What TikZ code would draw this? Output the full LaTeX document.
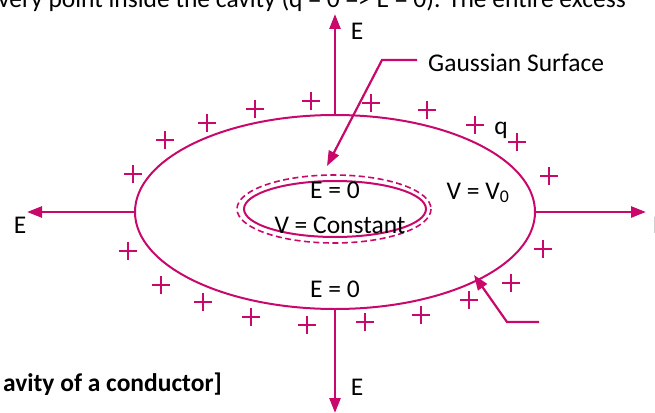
\documentclass[tikz,border=0pt]{standalone}
\usepackage{fontspec}
\setmainfont{Carlito}
\usetikzlibrary{arrows.meta}
\definecolor{chargepink}{HTML}{C8096B}
\tikzset{
  field/.style = {draw = chargepink, line width = 2.6pt, -{Triangle[length = 15pt, width = 11pt]}},
  leader/.style = {draw = chargepink, line width = 2.2pt},
  pointer/.style = {leader, -{Triangle[length = 15pt, width = 11pt]}},
  surf/.style = {draw = chargepink, line width = 2pt},
  chargemark/.style = {draw = chargepink, line width = 2.8pt},
  lbl/.style = {text = black, font = \fontsize{25.5}{30}\selectfont, inner sep = 0pt},
}
\begin{document}
\begin{tikzpicture}[x = 1pt, y = -1pt]
        \useasboundingbox (0, 0) rectangle (655, 412);
        \clip (0, 0) rectangle (655, 412);
        % cut-off text of the page round the figure
        \node[lbl, anchor = base west] (pagetext) at (-2, 8) {very point inside the cavity (q = 0 => E = 0). The entire excess};
        \node[lbl, anchor = base east, font = \fontsize{25.5}{30}\selectfont\bfseries] (caption) at (222, 391) {avity of a conductor]};
        % conductor, cavity and gaussian surface
        \coordinate (centre) at (335, 212);
        \draw[surf] (centre) ellipse [x radius = 200, y radius = 97];
        \draw[surf] (335, 209) ellipse [x radius = 91, y radius = 28];
        \draw[surf, line width = 1.6pt, dash pattern = on 6pt off 3.5pt] (334, 209) ellipse [x radius = 97, y radius = 34];
        \coordinate (outerN) at (335, 115);
        \coordinate (outerS) at (335, 309);
        \coordinate (outerW) at (135, 212);
        \coordinate (outerE) at (535, 212);
        \coordinate (tipN) at (335, 14);
        \coordinate (tipS) at (335, 413);
        \coordinate (tipW) at (27, 212);
        \coordinate (tipE) at (646, 212);
        \draw[field] (outerN) -- (tipN);
        \draw[field] (outerS) -- (tipS);
        \draw[field] (outerW) -- (tipW);
        \draw[field] (outerE) -- (tipE);
        % charges on the outer surface
        \foreach \px/\py in {133/174, 165/140, 207/123, 255/109, 311/101, 371/103, 427/110, 475/125, 517/142, 549/176,
                             128/251, 161/285, 203/302, 251/317, 307/325, 365/322, 421/315, 469/300, 511/283, 543/249}{
            \draw[chargemark] (\px, \py) ++(-9, 0) -- ++(18, 0) (\px, \py) ++(0, -9) -- ++(0, 18);
        }
        % labels
        \node[lbl, anchor = base] (ecav) at (335, 198) {E = 0};
        \node[lbl, anchor = base] (vcav) at (340, 233) {V = Constant};
        \node[lbl, anchor = base] (vcond) at (478, 199) {V = V\textsubscript{0}};
        \node[lbl, anchor = base] (econd) at (335, 297) {E = 0};
        \node[lbl, anchor = base] (qlbl) at (501, 134) {q};
        \node[lbl, anchor = base west] (gauss) at (428, 71) {Gaussian Surface};
        \node[lbl, anchor = base] (eN) at (357, 40) {E};
        \node[lbl, anchor = base] (eS) at (357, 395) {E};
        \node[lbl, anchor = base] (eW) at (20, 233) {E};
        \node[lbl, anchor = base west] (eE) at (653, 233) {E};
        % leader lines
        \coordinate (gaussbend) at (382, 60);
        \coordinate (gausstip) at (327, 166);
        \coordinate (condend) at (539, 322);
        \coordinate (condbend) at (507, 322);
        \coordinate (condtip) at (474, 275);
        \draw[pointer] (417, 60) -- (gaussbend) -- (gausstip);
        \draw[pointer] (condend) -- (condbend) -- (condtip);
\end{tikzpicture}
\end{document}
